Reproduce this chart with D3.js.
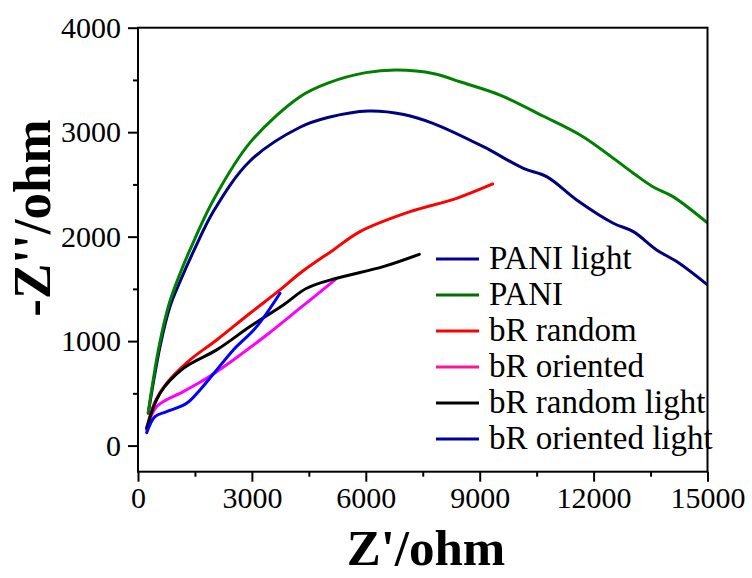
<!DOCTYPE html>
<html>
<head>
<meta charset="utf-8">
<script src="https://d3js.org/d3.v7.min.js"></script>
<style>
  body { margin: 0; background: #fff; }
  svg { font-family: "Liberation Serif", "Times New Roman", serif; }
</style>
</head>
<body>
<svg id="chart" width="752" height="578"></svg>
<script>
// series: [Z', -Z'']
var paniLight = [[270,310],[580,947],[843,1330],[1106,1569],[1483,1875],[2000,2250],[2950,2724],[4267,3047],[5000,3140],[6066,3203],[7000,3170],[7770,3085],[9096,2861],[10150,2654],[10764,2574],[11555,2351],[12520,2128],[13046,2048],[13660,1873],[14190,1761],[15000,1538]];
var pani = [[270,320],[560,960],[830,1370],[1100,1640],[1370,1875],[2000,2360],[2950,2900],[4267,3340],[5000,3470],[6000,3570],[6814,3595],[7800,3560],[8500,3480],[9535,3355],[10667,3155],[11720,2957],[13040,2609],[13560,2478],[14090,2383],[15000,2131]];
var bRRandom = [[229,166],[450,420],[756,597],[1370,820],[2072,1011],[2950,1267],[3740,1490],[4267,1650],[5145,1873],[5847,2048],[7164,2239],[8393,2367],[9342,2504]];
var bROriented = [[229,150],[492,373],[1194,517],[1809,645],[2511,820],[3389,1059],[4267,1315],[5189,1586]];
var bRRandomLight = [[229,166],[580,501],[1194,740],[2072,916],[2950,1139],[3827,1346],[4443,1506],[5232,1602],[6460,1713],[7409,1831]];
var bROrientedLight = [[229,124],[448,278],[756,325],[1282,405],[1633,533],[2072,724],[2511,916],[3126,1139],[3740,1458]];

var seriesNames = ["PANI light", "PANI", "bR random", "bR oriented", "bR random light", "bR oriented light"];
var seriesData = [paniLight, pani, bRRandom, bROriented, bRRandomLight, bROrientedLight];
var lineColors = ["#000080", "#008000", "#ff0000", "#ff00ff", "#000000", "#0000ff"];
var legendColors = ["#0000a0", "#007000", "#ff0000", "#ff1493", "#000000", "#0000a0"];

var xMajor = [0, 3000, 6000, 9000, 12000, 15000];
var xMinor = [1500, 4500, 7500, 10500, 13500];
var yMajor = [0, 1000, 2000, 3000, 4000];
var yMinor = [500, 1500, 2500, 3500];

var plotLeft = 138, plotRight = 707.5, plotTop = 27.7, plotBottom = 471.7;

var svg = d3.select("#chart");
var x = d3.scaleLinear().domain([0, 15000]).range([plotLeft, plotRight]);
var y = d3.scaleLinear().domain([-250, 4000]).range([plotBottom, plotTop]);

svg.append("defs").append("clipPath").attr("id", "plotclip")
  .append("rect").attr("x", plotLeft).attr("y", plotTop)
  .attr("width", plotRight - plotLeft).attr("height", plotBottom - plotTop);

// curves
var line = d3.line().x(function(d) { return x(d[0]); }).y(function(d) { return y(d[1]); })
  .curve(d3.curveCatmullRom.alpha(0.5));
svg.append("g").attr("clip-path", "url(#plotclip)")
  .selectAll("path").data(seriesData).enter().append("path")
  .attr("d", line)
  .attr("fill", "none")
  .attr("stroke", function(d, i) { return lineColors[i]; })
  .attr("stroke-width", 3)
  .attr("stroke-linejoin", "round")
  .attr("stroke-linecap", "round");

// axes
function styleAxis(g) {
  g.select(".domain").remove();
  g.selectAll("line").attr("stroke", "#000").attr("stroke-width", 2);
  g.selectAll("text").attr("font-size", 30).attr("fill", "#000")
    .attr("font-family", "Liberation Serif, Times New Roman, serif");
}
svg.append("g").attr("transform", "translate(" + plotLeft + ",0)")
  .call(d3.axisLeft(y).tickValues(yMajor).tickSize(10).tickPadding(7).tickFormat(d3.format("d")))
  .call(styleAxis);
svg.append("g").attr("transform", "translate(" + plotLeft + ",0)")
  .call(d3.axisLeft(y).tickValues(yMinor).tickSize(5).tickFormat(""))
  .call(styleAxis);
svg.append("g").attr("transform", "translate(0," + plotBottom + ")")
  .call(d3.axisBottom(x).tickValues(xMajor).tickSize(10).tickPadding(5).tickFormat(d3.format("d")))
  .call(styleAxis);
svg.append("g").attr("transform", "translate(0," + plotBottom + ")")
  .call(d3.axisBottom(x).tickValues(xMinor).tickSize(5).tickFormat(""))
  .call(styleAxis);

// frame
svg.append("rect")
  .attr("x", plotLeft).attr("y", plotTop)
  .attr("width", plotRight - plotLeft).attr("height", plotBottom - plotTop)
  .attr("fill", "none").attr("stroke", "#000").attr("stroke-width", 2);

// legend
var legend = svg.append("g");
var items = legend.selectAll("g").data(seriesNames).enter().append("g")
  .attr("transform", function(d, i) { return "translate(0," + (259 + i * 36) + ")"; });
items.append("line").attr("x1", 436).attr("x2", 479).attr("y1", 0).attr("y2", 0)
  .attr("stroke", function(d, i) { return legendColors[i]; }).attr("stroke-width", 3);
items.append("text").attr("x", 489).attr("y", 10).attr("font-size", 33).text(function(d) { return d; });

// axis titles
svg.append("text").attr("x", 426).attr("y", 565).attr("text-anchor", "middle")
  .attr("font-size", 51).attr("font-weight", "bold").text("Z'/ohm");
svg.append("text").attr("transform", "translate(50,218) rotate(-90)").attr("text-anchor", "middle")
  .attr("font-size", 53).attr("font-weight", "bold").text("-Z''/ohm");
</script>
</body>
</html>
